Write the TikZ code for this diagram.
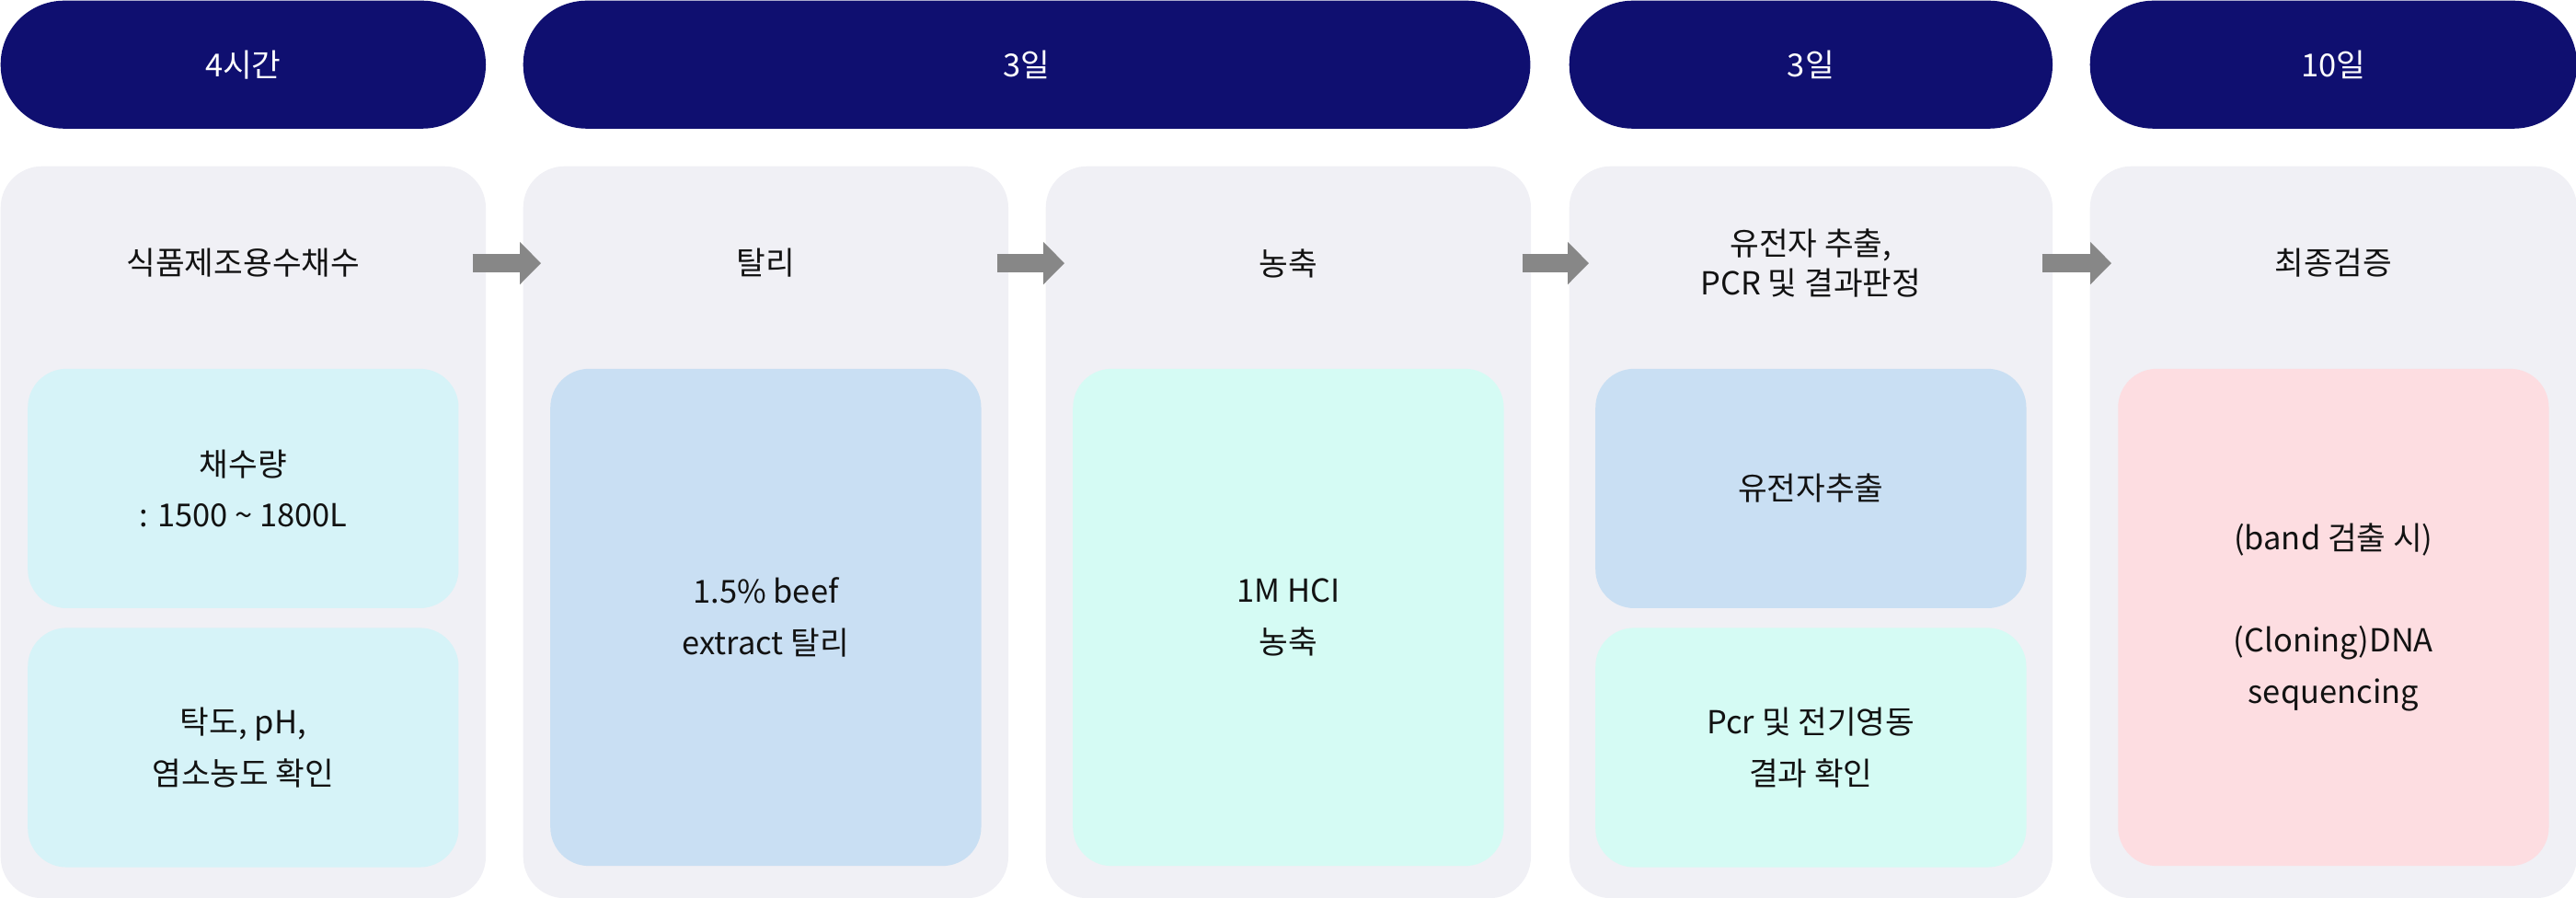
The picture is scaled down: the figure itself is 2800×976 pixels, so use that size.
\documentclass[tikz,border=0pt]{standalone}
\usepackage{fontspec}
\newfontfamily\kr{Noto Sans CJK KR}
\usepackage{xcolor}
\usepackage{tikz}
\usetikzlibrary{arrows.meta, positioning}

\definecolor{navy}{HTML}{0F0F70}
\definecolor{panelgray}{HTML}{F0F0F5}
\definecolor{cyanbox}{HTML}{D6F3F8}
\definecolor{bluebox}{HTML}{C9DFF3}
\definecolor{mintbox}{HTML}{D5FBF4}
\definecolor{pinkbox}{HTML}{FDDDE1}
\definecolor{arrowgray}{HTML}{878787}

\begin{document}
\begin{tikzpicture}[
        x=0.01cm, y=-0.01cm,
        every node/.style={font=\kr\fontsize{9.8}{15.8}\selectfont, inner sep=0pt, text=black!93},
        hdr/.style={fill=navy, text=white, rounded corners=0.69cm, minimum height=1.39cm, anchor=north west},
        panel/.style={fill=panelgray, rounded corners=0.45cm, minimum width=5.27cm, minimum height=7.95cm, anchor=north west},
        ttl/.style={align=center, font=\kr\fontsize{9.8}{12.4}\selectfont},
        card/.style={rounded corners=0.42cm, minimum width=4.68cm, align=center},
        halfcard/.style={card, minimum height=2.6cm},
        fullcard/.style={card, minimum height=5.4cm},
        flow/.style={draw=arrowgray, line width=0.2cm, -{Triangle[length=0.23cm, width=0.45cm]}},
    ]

    \useasboundingbox (0,0) rectangle (2800,976);

    % ── Duration headers ──
    \node[hdr, minimum width=5.27cm] (h1) at (0,0) {4시간};
    \node[hdr, minimum width=10.94cm] (h2) at (568,0) {3일};
    \node[hdr, minimum width=5.25cm] (h3) at (1705,0) {3일};
    \node[hdr, minimum width=5.29cm] (h4) at (2271,0) {10일};

    % ── Step panels ──
    \node[panel] (p1) at (0,180) {};
    \node[panel] (p2) at (568,180) {};
    \node[panel] (p3) at (1136,180) {};
    \node[panel, minimum width=5.25cm] (p4) at (1705,180) {};
    \node[panel, minimum width=5.29cm] (p5) at (2271,180) {};

    % ── Step titles ──
    \node[ttl] (t1) at ([yshift=-1.06cm]p1.north) {식품제조용수채수};
    \node[ttl] (t2) at ([yshift=-1.06cm]p2.north) {탈리};
    \node[ttl] (t3) at ([yshift=-1.06cm]p3.north) {농축};
    \node[ttl] (t4) at ([yshift=-1.06cm]p4.north) {유전자 추출,\\PCR 및 결과판정};
    \node[ttl] (t5) at ([yshift=-1.06cm]p5.north) {최종검증};

    % ── Detail cards ──
    \node[halfcard, fill=cyanbox, below=2.2cm of p1.north] (c1a) {채수량\\: 1500 \textasciitilde{} 1800L};
    \node[halfcard, fill=cyanbox, below=0.2cm of c1a] (c1b) {탁도, pH,\\염소농도 확인};
    \node[fullcard, fill=bluebox, below=2.2cm of p2.north] (c2) {1.5\% beef\\extract 탈리};
    \node[fullcard, fill=mintbox, below=2.2cm of p3.north] (c3) {1M HCI\\농축};
    \node[halfcard, fill=bluebox, below=2.2cm of p4.north] (c4a) {유전자추출};
    \node[halfcard, fill=mintbox, below=0.2cm of c4a] (c4b) {Pcr 및 전기영동\\결과 확인};
    \node[fullcard, fill=pinkbox, below=2.2cm of p5.north] (c5) {(band 검출 시)\\[15.8pt](Cloning)DNA\\sequencing};

    % ── Flow arrows ──
    \draw[flow] ([xshift=-0.15cm]p1.east |- t1) -- ([xshift=0.2cm]p2.west |- t1);
    \draw[flow] ([xshift=-0.13cm]p2.east |- t2) -- ([xshift=0.21cm]p3.west |- t2);
    \draw[flow] ([xshift=-0.1cm]p3.east |- t3) -- ([xshift=0.22cm]p4.west |- t3);
    \draw[flow] ([xshift=-0.12cm]p4.east |- t5) -- ([xshift=0.24cm]p5.west |- t5);

\end{tikzpicture}
\end{document}
